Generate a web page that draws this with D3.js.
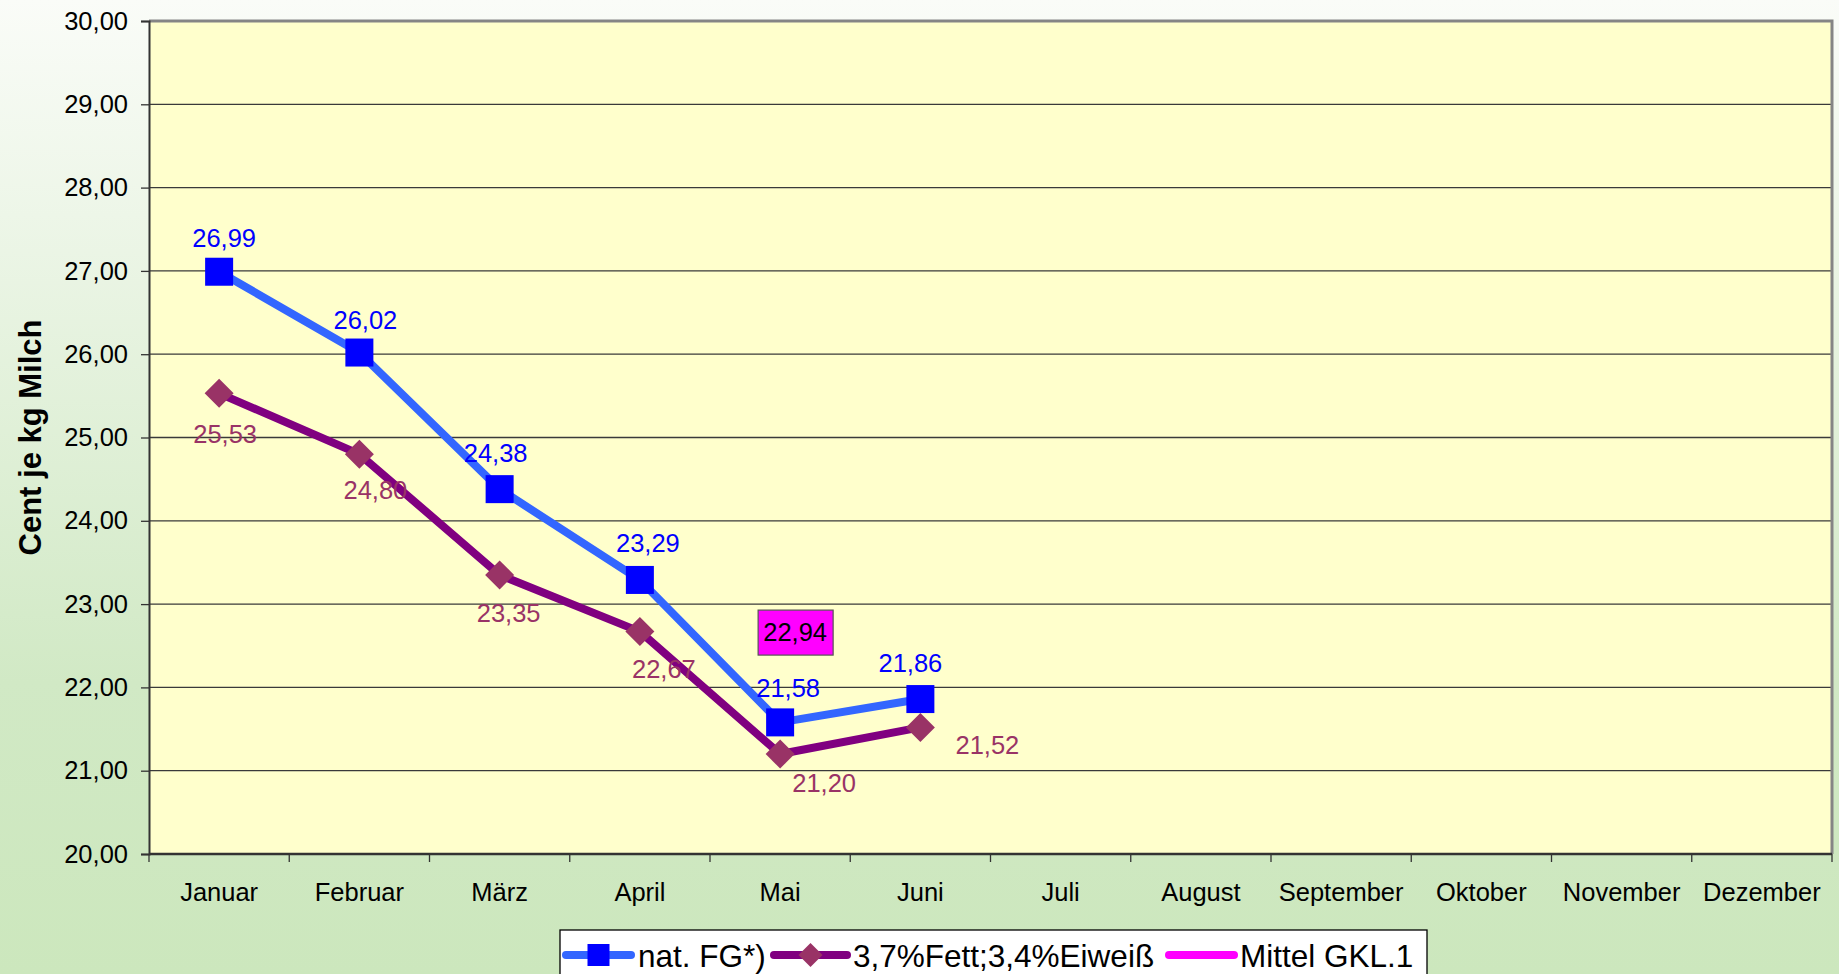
<!DOCTYPE html>
<html>
<head>
<meta charset="utf-8">
<script src="https://cdn.jsdelivr.net/npm/d3@7"></script>
<style>
  html, body { margin: 0; padding: 0; overflow: hidden; }
  svg { display: block; font-family: "Liberation Sans", Arial, sans-serif; }
</style>
</head>
<body>
<div id="chart"></div>
<script>
// --- data ---
var months = ["Januar", "Februar", "März", "April", "Mai", "Juni", "Juli",
              "August", "September", "Oktober", "November", "Dezember"];
var natFG = [26.99, 26.02, 24.38, 23.29, 21.58, 21.86];
var fettEiweiss = [25.53, 24.80, 23.35, 22.67, 21.20, 21.52];
var mittelGKL = [null, null, null, null, 22.94];
var yTicks = [20, 21, 22, 23, 24, 25, 26, 27, 28, 29, 30];
var seriesNames = ["nat. FG*)", "3,7%Fett;3,4%Eiweiß", "Mittel GKL.1"];

// label nudges (px) so the value labels sit like in the original
var natShift = [[5, -25], [6, -24], [-4, -27], [8, -28], [8, -25], [-10, -27]];
var fettShift = [[6, 50], [16, 45], [9, 47], [24, 46], [44, 38], [67, 27]];

var W = 1839, H = 974;
var plotL = 149, plotR = 1832, plotT = 21, plotB = 854;

var svg = d3.select("#chart").append("svg")
  .attr("width", W).attr("height", H);

var defs = svg.append("defs");
var grad = defs.append("linearGradient").attr("id", "bg")
  .attr("x1", 0).attr("y1", 0).attr("x2", 0).attr("y2", 1);
grad.append("stop").attr("offset", "0%").attr("stop-color", "#fafcf8");
grad.append("stop").attr("offset", "70%").attr("stop-color", "#d1e9c5");
grad.append("stop").attr("offset", "100%").attr("stop-color", "#cce7bd");

svg.append("rect").attr("width", W).attr("height", H).attr("fill", "url(#bg)");

var x = d3.scaleBand().domain(months).range([plotL, plotR]).padding(0);
var y = d3.scaleLinear().domain([20, 30]).range([plotB, plotT]);
var fmt = function(v){ return d3.format(".2f")(v).replace(".", ","); };

// plot area
svg.append("rect")
  .attr("x", plotL).attr("y", plotT)
  .attr("width", plotR - plotL).attr("height", plotB - plotT)
  .attr("fill", "#ffffcc");

// gridlines
svg.append("g").selectAll("line")
  .data(yTicks.slice(1, -1))
  .enter().append("line")
  .attr("x1", plotL).attr("x2", plotR)
  .attr("y1", function(d){ return y(d); })
  .attr("y2", function(d){ return y(d); })
  .attr("stroke", "#3a3a3a").attr("stroke-width", 1.3);

// top / right frame
svg.append("path")
  .attr("d", "M" + plotL + "," + y(30) + "H" + plotR + "V" + plotB)
  .attr("fill", "none").attr("stroke", "#858585").attr("stroke-width", 3);

// y axis
var yAxis = svg.append("g")
  .attr("transform", "translate(" + plotL + ",0)")
  .call(d3.axisLeft(y).tickValues(yTicks).tickFormat(fmt).tickSize(8).tickPadding(13));
yAxis.select(".domain").attr("stroke", "#333").attr("stroke-width", 2);
yAxis.selectAll(".tick line").attr("stroke", "#333").attr("stroke-width", 1.3);
yAxis.selectAll("text").attr("font-size", "25.5px").attr("fill", "#000")
  .attr("font-family", "Liberation Sans, Arial, sans-serif");

// x axis
var xAxis = svg.append("g")
  .attr("transform", "translate(0," + plotB + ")")
  .call(d3.axisBottom(x).tickSize(0).tickPadding(29));
xAxis.select(".domain").remove();
xAxis.selectAll("text").attr("font-size", "25.5px").attr("fill", "#000")
  .attr("font-family", "Liberation Sans, Arial, sans-serif");

svg.append("line")
  .attr("x1", plotL).attr("x2", plotR)
  .attr("y1", plotB).attr("y2", plotB)
  .attr("stroke", "#333").attr("stroke-width", 2.5);

var bounds = months.map(function(m){ return x(m); }).concat([x.range()[1]]);
svg.append("g").selectAll("line")
  .data(bounds).enter().append("line")
  .attr("x1", function(d){ return d; }).attr("x2", function(d){ return d; })
  .attr("y1", plotB).attr("y2", plotB + 8)
  .attr("stroke", "#333").attr("stroke-width", 1.3);

// y axis title
svg.append("text")
  .attr("transform", "translate(41," + ((plotT + plotB) / 2) + ") rotate(-90)")
  .attr("text-anchor", "middle")
  .attr("font-size", "31px").attr("font-weight", "bold")
  .text("Cent je kg Milch");

var cx = function(d, i){ return x(months[i]) + x.bandwidth() / 2; };
var line = d3.line()
  .x(function(d, i){ return x(months[i]) + x.bandwidth() / 2; })
  .y(function(d){ return y(d); });

// series 2: 3,7% Fett
svg.append("path").datum(fettEiweiss)
  .attr("d", line).attr("fill", "none")
  .attr("stroke", "#800080").attr("stroke-width", 8)
  .attr("stroke-linejoin", "round");

// series 1: nat. FG
svg.append("path").datum(natFG)
  .attr("d", line).attr("fill", "none")
  .attr("stroke", "#3366ff").attr("stroke-width", 8)
  .attr("stroke-linejoin", "round");

svg.append("g").selectAll("path")
  .data(fettEiweiss).enter().append("path")
  .attr("transform", function(d, i){ return "translate(" + cx(d, i) + "," + y(d) + ")"; })
  .attr("d", "M0,-14.5L14.5,0L0,14.5L-14.5,0Z")
  .attr("fill", "#993366");

svg.append("g").selectAll("rect")
  .data(natFG).enter().append("rect")
  .attr("x", function(d, i){ return cx(d, i) - 14; })
  .attr("y", function(d){ return y(d) - 14; })
  .attr("width", 28).attr("height", 28)
  .attr("fill", "#0000ff");

// value labels
svg.append("g").selectAll("text")
  .data(natFG).enter().append("text")
  .attr("x", function(d, i){ return cx(d, i) + natShift[i][0]; })
  .attr("y", function(d, i){ return y(d) + natShift[i][1]; })
  .attr("text-anchor", "middle").attr("font-size", "25.5px")
  .attr("fill", "#0000ff")
  .text(fmt);

svg.append("g").selectAll("text")
  .data(fettEiweiss).enter().append("text")
  .attr("x", function(d, i){ return cx(d, i) + fettShift[i][0]; })
  .attr("y", function(d, i){ return y(d) + fettShift[i][1]; })
  .attr("text-anchor", "middle").attr("font-size", "25.5px")
  .attr("fill", "#993366")
  .text(fmt);

// Mittel GKL.1 — single value, only its boxed label shows
mittelGKL.forEach(function(v, i){
  if (v == null) return;
  var g = svg.append("g")
    .attr("transform", "translate(" + (cx(v, i) + 15) + "," + (y(v) + 23) + ")");
  g.append("rect").attr("x", -37).attr("y", -22).attr("width", 75).attr("height", 45)
    .attr("fill", "#ff00ff").attr("stroke", "#555").attr("stroke-width", 1.2);
  g.append("text").attr("text-anchor", "middle").attr("dy", "0.36em")
    .attr("font-size", "25.5px").attr("fill", "#000").text(fmt(v));
});

// legend
var lg = svg.append("g");
lg.append("rect").attr("x", 560).attr("y", 930).attr("width", 867).attr("height", 60)
  .attr("fill", "#fff").attr("stroke", "#000").attr("stroke-width", 1.3);

var legendItems = [
  { name: seriesNames[0], color: "#3366ff", x0: 566, x1: 631, tx: 638, marker: "square" },
  { name: seriesNames[1], color: "#800080", x0: 774, x1: 847, tx: 853, marker: "diamond" },
  { name: seriesNames[2], color: "#ff00ff", x0: 1169, x1: 1234, tx: 1240, marker: null }
];
var ly = 955;
legendItems.forEach(function(it){
  lg.append("line").attr("x1", it.x0).attr("x2", it.x1).attr("y1", ly).attr("y2", ly)
    .attr("stroke", it.color).attr("stroke-width", 8).attr("stroke-linecap", "round");
  var mx = (it.x0 + it.x1) / 2;
  if (it.marker === "square") {
    lg.append("rect").attr("x", mx - 11).attr("y", ly - 11).attr("width", 22).attr("height", 22)
      .attr("fill", "#0000ff");
  } else if (it.marker === "diamond") {
    lg.append("path").attr("transform", "translate(" + mx + "," + ly + ")")
      .attr("d", "M0,-12L12,0L0,12L-12,0Z").attr("fill", "#993366");
  }
  lg.append("text").attr("x", it.tx).attr("y", 967)
    .attr("font-size", "31.5px").attr("fill", "#000").text(it.name);
});
</script>
</body>
</html>
